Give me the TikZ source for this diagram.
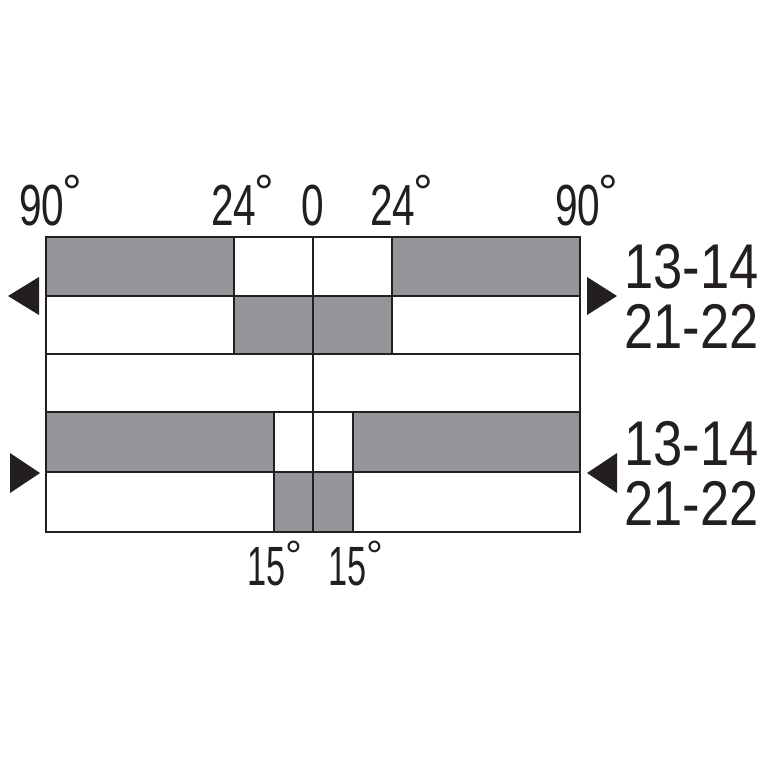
\documentclass[tikz,border=0pt]{standalone}
\usepackage{fontspec}
\setmainfont{Liberation Sans}
\definecolor{cellgray}{RGB}{147,149,152}
\definecolor{ink}{RGB}{35,31,32}

\newcommand{\topdeg}[1]{\scalebox{0.7}[1]{#1}\kern-1pt\raisebox{9pt}{\fontsize{28}{28}\selectfont °}}
\newcommand{\botdeg}[1]{\scalebox{0.62}[1]{#1}\raisebox{8.5pt}{\fontsize{24}{24}\selectfont °}}

\begin{document}
\begin{tikzpicture}[x=0.02cm,y=-0.02cm]
\tikzset{
  frame/.style={draw=ink, line width=0.05cm},
  toplab/.style={anchor=base west, inner sep=0pt, text=ink, font=\fontsize{33}{33}\selectfont},
  botlab/.style={anchor=base west, inner sep=0pt, text=ink, font=\fontsize{31.5}{31.5}\selectfont},
  contlab/.style={anchor=base west, inner sep=0pt, text=ink, font=\fontsize{36}{36}\selectfont},
  marker/.style={fill=ink}
}

% shaded sectors
\fill[cellgray] (46,237) rectangle (234,296) (392,237) rectangle (580,296);
\fill[cellgray] (234,296) rectangle (392,354);
\fill[cellgray] (46,412) rectangle (274,472) (353,412) rectangle (580,472);
\fill[cellgray] (274,472) rectangle (353,532);

% grid
\draw[frame] (46,237) rectangle (580,532);
\foreach \y in {296,354,412,472}
  \draw[frame] (46,\y) -- (580,\y);
\draw[frame] (313,237) -- (313,532);
\draw[frame] (234,237) -- (234,354) (392,237) -- (392,354);
\draw[frame] (274,412) -- (274,532) (353,412) -- (353,532);

% markers
\fill[marker] (8,296) -- (39,277) -- (39,315) -- cycle;
\fill[marker] (617,296) -- (587,277) -- (587,315) -- cycle;
\fill[marker] (40,473) -- (10,453) -- (10,493) -- cycle;
\fill[marker] (587,473) -- (617,453) -- (617,493) -- cycle;

% angles
\node[toplab] (lab90l) at (19,225) {\topdeg{90}};
\node[toplab] (lab24l) at (211,225) {\topdeg{24}};
\node[toplab] (lab0) at (301,225) {\scalebox{0.7}[1]{0}};
\node[toplab] (lab24r) at (370,225) {\topdeg{24}};
\node[toplab] (lab90r) at (555,225) {\topdeg{90}};
\node[botlab] (lab15l) at (247,585) {\botdeg{15}};
\node[botlab] (lab15r) at (328,585) {\botdeg{15}};

% contacts
\node[contlab] (cUpA) at (624,288) {\scalebox{0.83}[1]{13-14}};
\node[contlab] (cUpB) at (624,348) {\scalebox{0.83}[1]{21-22}};
\node[contlab] (cLoA) at (624,465) {\scalebox{0.83}[1]{13-14}};
\node[contlab] (cLoB) at (624,525) {\scalebox{0.83}[1]{21-22}};

\useasboundingbox (0,0) rectangle (767,767);
\end{tikzpicture}
\end{document}
